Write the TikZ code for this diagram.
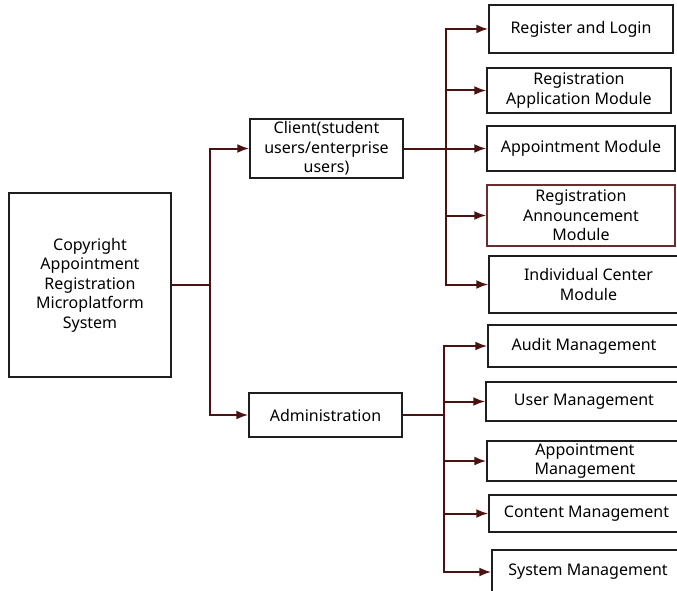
\documentclass[tikz,border=0pt]{standalone}
\usepackage{fontspec}
\setmainfont{Noto Sans}
\usetikzlibrary{arrows.meta}
\tikzset{>={Latex[length=12pt,width=9pt]}}
\definecolor{linkColour}{RGB}{75,18,18}
\definecolor{boxColour}{RGB}{30,30,30}
\definecolor{markColour}{RGB}{105,45,45}
\tikzset{
	box/.style={draw=boxColour, line width=1.5pt, fill=white, align=center, inner sep=0pt,
		font=\fontsize{16}{19.5}\selectfont},
	link/.style={draw=linkColour, line width=2pt}
}

\begin{document}
\begin{tikzpicture}[x=1pt, y=-1pt]
		% the canvas
		\useasboundingbox (0, 0) rectangle (677, 591);
		\clip (0, 0) rectangle (677, 591);
		\fill[white] (0, 0) rectangle (677, 591);

		% the root
		\node[box, minimum width=162, minimum height=184] (system) at (90, 285)
			{Copyright\\Appointment\\Registration\\Microplatform\\System};

		% the two sides
		\node[box, minimum width=153, minimum height=59] (client) at (326.5, 148.5)
			{Client(student\\users/enterprise\\users)};
		\node[box, minimum width=153, minimum height=44] (admin) at (325.5, 415)
			{Administration};

		% client modules
		\node[box, minimum width=184, minimum height=48] (login) at (581, 29) {Register and Login};
		\node[box, minimum width=184, minimum height=45] (apply) at (579, 90.5) {Registration\\Application Module};
		\node[box, minimum width=188, minimum height=45] (appoint) at (581, 148.5) {Appointment Module};
		\node[box, draw=markColour, minimum width=188, minimum height=61] (announce) at (581, 215.5)
			{Registration\\Announcement\\Module};
		\node[box, minimum width=199, minimum height=57] (centre) at (588.5, 284.5) {Individual Center\\Module};

		% administration modules
		\node[box, minimum width=192, minimum height=42] (audit) at (584, 346) {Audit Management};
		\node[box, minimum width=196, minimum height=39] (users) at (584, 401.5) {User Management};
		\node[box, minimum width=196, minimum height=40] (appman) at (585, 461) {Appointment\\Management};
		\node[box, minimum width=195, minimum height=37] (content) at (586.5, 513.5) {Content Management};
		\node[box, minimum width=192, minimum height=44] (sysman) at (588, 572) {System Management};

		% root to sides
		\coordinate (rootFork) at (210, 285);
		\draw[link] (system.east) -- (rootFork);
		\draw[link, ->] (rootFork) |- (client.west);
		\draw[link, ->] (rootFork) |- (admin.west);

		% client to modules
		\coordinate (clientFork) at (446, 148.5);
		\draw[link] (client.east) -- (clientFork);
		\foreach \m in {login, apply, appoint, announce, centre}
			\draw[link, ->] (clientFork) |- (\m.west);

		% administration to modules
		\coordinate (adminFork) at (444, 415);
		\draw[link] (admin.east) -- (adminFork);
		\foreach \m in {audit, users, appman, content, sysman}
			\draw[link, ->] (adminFork) |- (\m.west);
	\end{tikzpicture}
\end{document}
